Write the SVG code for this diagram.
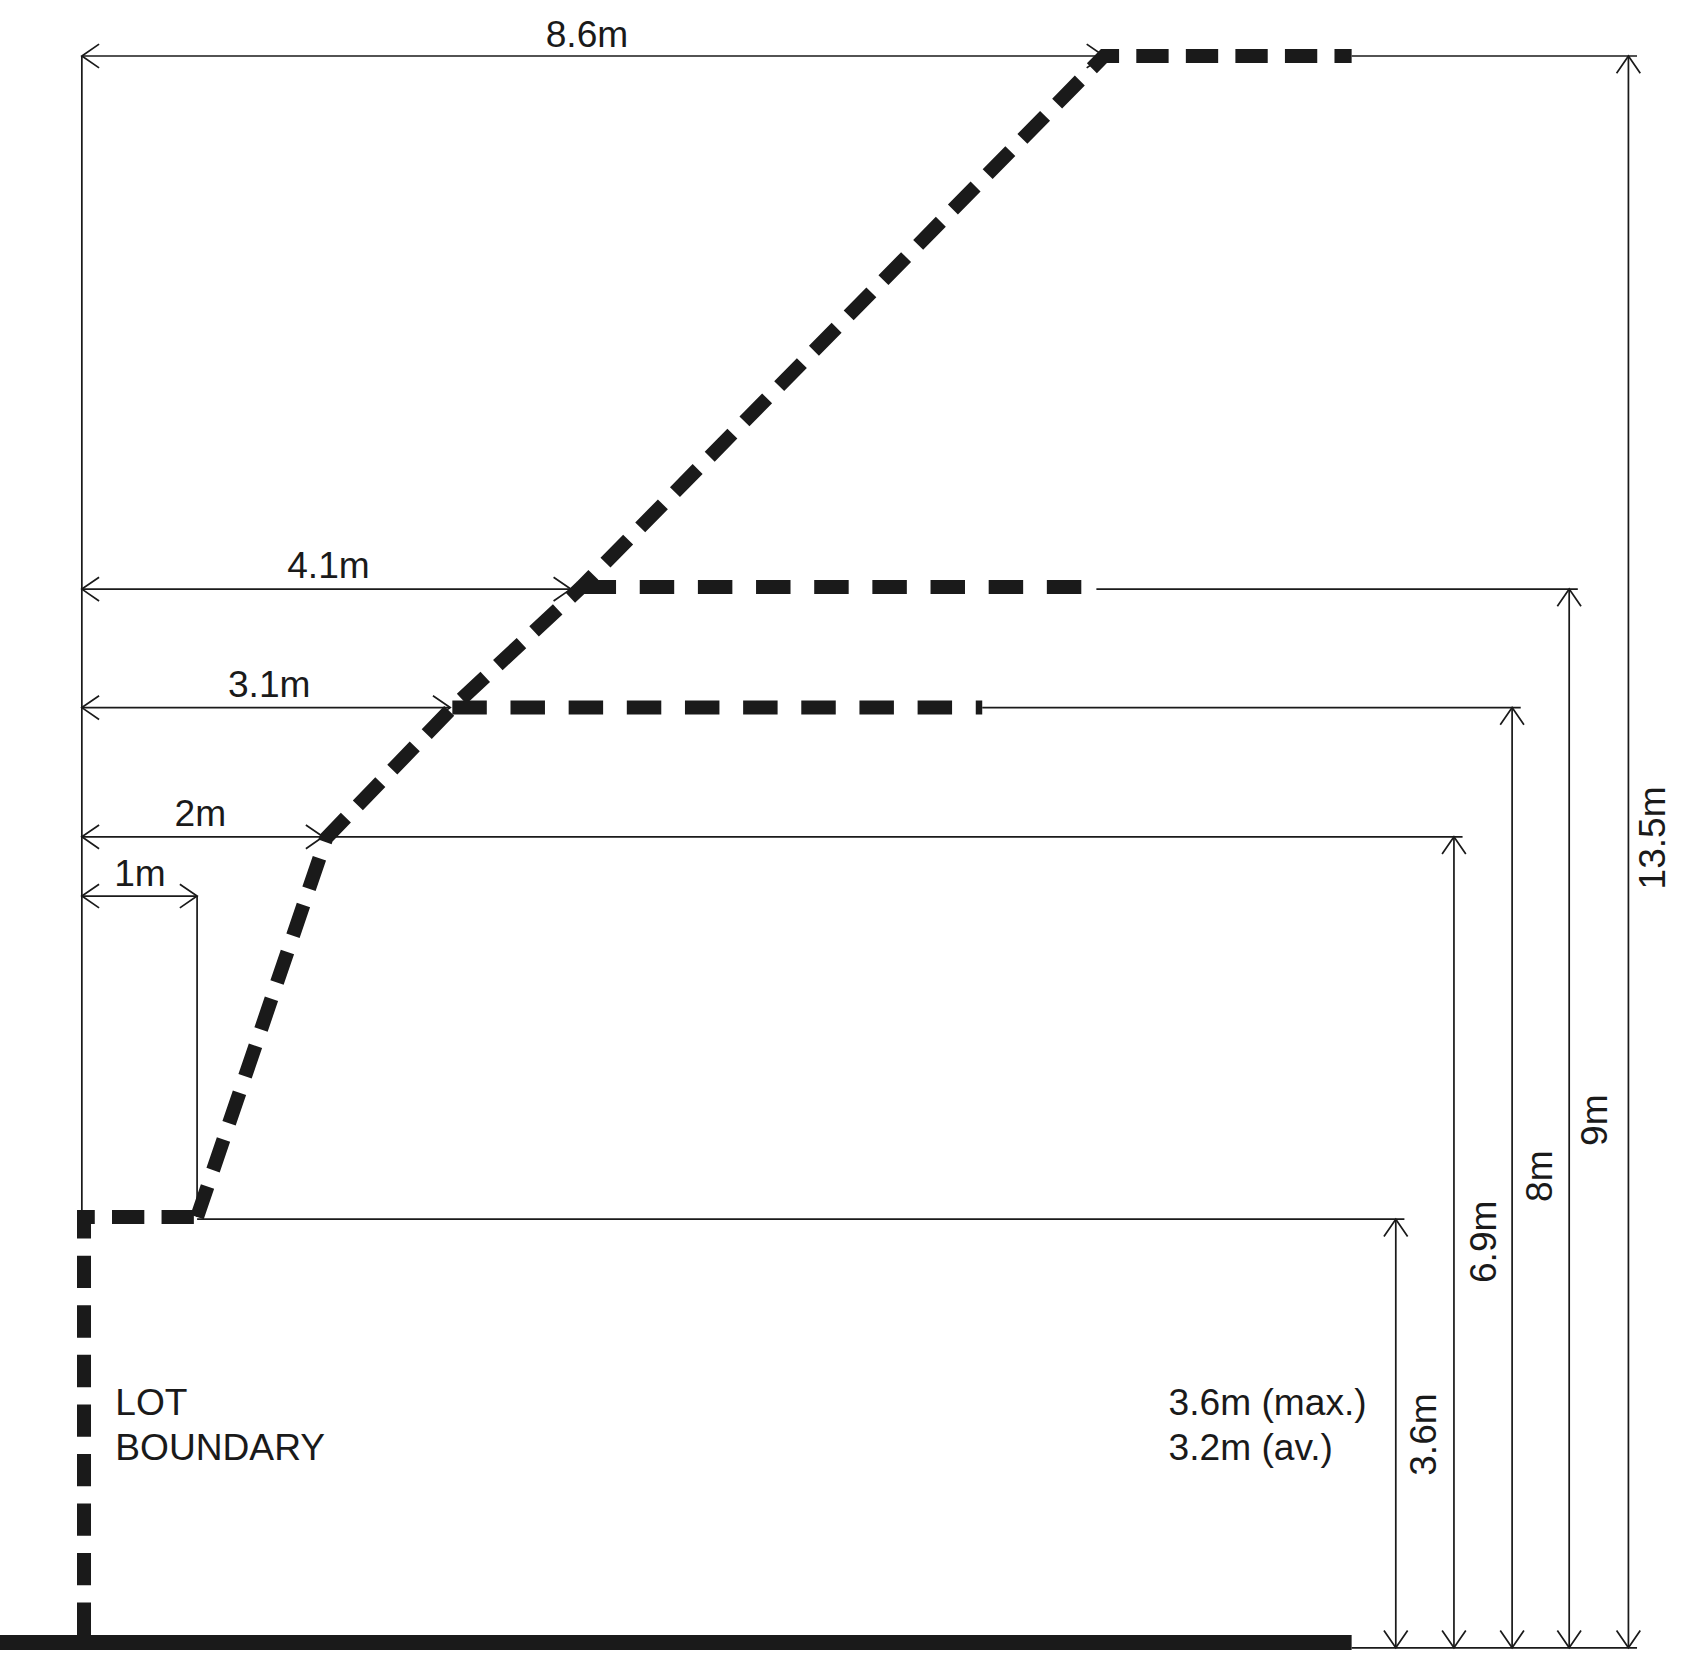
<svg xmlns="http://www.w3.org/2000/svg" width="1686" height="1680" viewBox="0 0 1686 1680">
<style>
.dim{stroke:#1a1a1a;stroke-width:1.6;fill:none}
.ext{stroke:#1a1a1a;stroke-width:1.6;fill:none}
.thick{stroke:#1a1a1a;stroke-width:13;fill:none;stroke-dasharray:30 16;stroke-linejoin:miter}
.t{font-family:"Liberation Sans",Arial,sans-serif;font-size:34.5px;fill:#1a1a1a}
</style>
<defs>
<marker id="a" viewBox="-18 -13 20 26" refX="0" refY="0" markerWidth="20" markerHeight="26" markerUnits="userSpaceOnUse" orient="auto-start-reverse">
<path d="M-16,-11 L0,0 L-16,11" fill="none" stroke="#1a1a1a" stroke-width="1.6"/>
</marker>
</defs>
<rect width="1686" height="1680" fill="#fff"/>
<g transform="scale(1.077)">
<g id="connectors">
<line class="ext" x1="76" y1="52" x2="76" y2="1130"/>
<line class="dim" x1="76" y1="52" x2="1025" y2="52" marker-start="url(#a)" marker-end="url(#a)"/>
<line class="dim" x1="76" y1="547" x2="530" y2="547" marker-start="url(#a)" marker-end="url(#a)"/>
<line class="dim" x1="76" y1="657" x2="418" y2="657" marker-start="url(#a)" marker-end="url(#a)"/>
<line class="dim" x1="76" y1="777" x2="300" y2="777" marker-start="url(#a)" marker-end="url(#a)"/>
<line class="dim" x1="76" y1="832" x2="183" y2="832" marker-start="url(#a)" marker-end="url(#a)"/>
<line class="ext" x1="183" y1="832" x2="183" y2="1130"/>
<line class="ext" x1="1255" y1="52" x2="1520" y2="52"/>
<line class="ext" x1="1018" y1="547" x2="1465" y2="547"/>
<line class="ext" x1="912" y1="657" x2="1412" y2="657"/>
<line class="ext" x1="303" y1="777" x2="1358" y2="777"/>
<line class="ext" x1="183" y1="1132" x2="1304" y2="1132"/>
<line class="ext" x1="1255" y1="1530" x2="1520" y2="1530"/>
<line class="dim" x1="1296" y1="1132" x2="1296" y2="1530" marker-start="url(#a)" marker-end="url(#a)"/>
<line class="dim" x1="1350" y1="777" x2="1350" y2="1530" marker-start="url(#a)" marker-end="url(#a)"/>
<line class="dim" x1="1404" y1="657" x2="1404" y2="1530" marker-start="url(#a)" marker-end="url(#a)"/>
<line class="dim" x1="1457" y1="547" x2="1457" y2="1530" marker-start="url(#a)" marker-end="url(#a)"/>
<line class="dim" x1="1512" y1="52" x2="1512" y2="1530" marker-start="url(#a)" marker-end="url(#a)"/>
</g>
<g id="ground"><line x1="0" y1="1525" x2="1255" y2="1525" stroke="#1a1a1a" stroke-width="14"/></g>
<g id="lot-boundary">
<path class="thick" d="M78,1518 L78,1130 L183,1130"/>
<text class="t" x="107" y="1314">LOT</text>
<text class="t" x="107" y="1356">BOUNDARY</text>
</g>
<g id="envelope">
<path class="thick" d="M183,1130 L303,778 L420,657 L540,545 L1025,52 L1255,52"/>
<path class="thick" d="M420,657 L912,657" style="stroke-dasharray:32 22"/>
<path class="thick" d="M540,545 L1018,545" style="stroke-dasharray:32 22"/>
</g>
<g id="labels">
<text class="t" x="545" y="44" text-anchor="middle">8.6m</text>
<text class="t" x="305" y="537" text-anchor="middle">4.1m</text>
<text class="t" x="250" y="647" text-anchor="middle">3.1m</text>
<text class="t" x="186" y="767" text-anchor="middle">2m</text>
<text class="t" x="130" y="823" text-anchor="middle">1m</text>
<text class="t" x="1085" y="1314">3.6m (max.)</text>
<text class="t" x="1085" y="1356">3.2m (av.)</text>
<text class="t" transform="translate(1333,1332) rotate(-90)" text-anchor="middle">3.6m</text>
<text class="t" transform="translate(1389,1153) rotate(-90)" text-anchor="middle">6.9m</text>
<text class="t" transform="translate(1441,1092) rotate(-90)" text-anchor="middle">8m</text>
<text class="t" transform="translate(1492,1040) rotate(-90)" text-anchor="middle">9m</text>
<text class="t" transform="translate(1546,778) rotate(-90)" text-anchor="middle">13.5m</text>
</g>
</g>
</svg>
